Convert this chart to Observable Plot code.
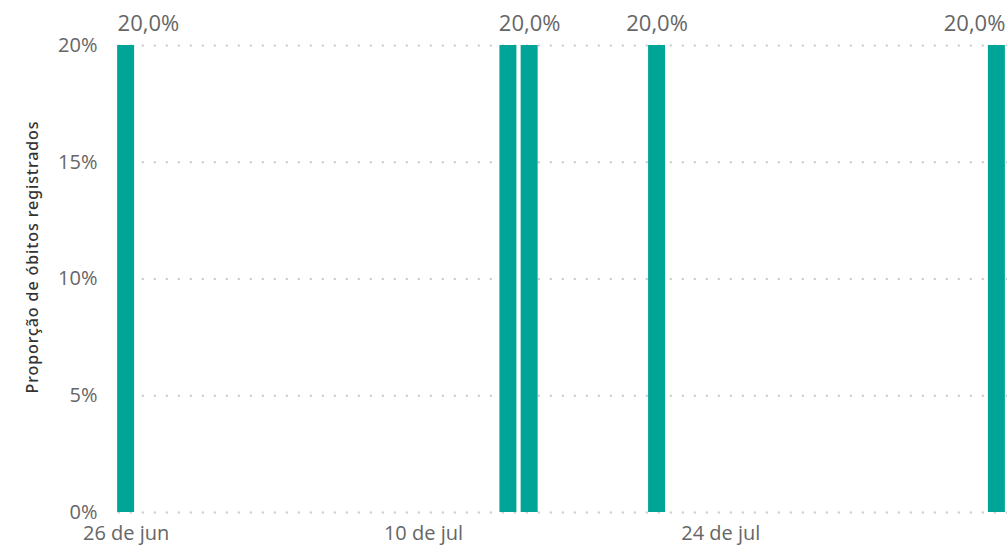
<!DOCTYPE html>
<html>
<head>
<meta charset="utf-8">
<script src="https://cdn.jsdelivr.net/npm/d3@7"></script>
<script src="https://cdn.jsdelivr.net/npm/@observablehq/plot@0.6"></script>
<style>
  html, body { margin: 0; padding: 0; background: #fff; }
  #chart svg { display: block; }
</style>
</head>
<body>
<div id="chart"></div>
<script>
// Data
const dates = ["2020-06-26", "2020-07-14", "2020-07-15", "2020-07-21", "2020-08-06"];
const values = [0.20, 0.20, 0.20, 0.20, 0.20];
// Which bars show a value label (the 14 jul label is hidden by overlap)
const showLabel = [true, false, true, true, true];
const yTicks = [0, 0.05, 0.10, 0.15, 0.20];
const xTicks = ["2020-06-26", "2020-07-10", "2020-07-24"];
const axisTitle = "Proporção de óbitos registrados";

const parse = d3.utcParse("%Y-%m-%d");
const data = dates.map((d, i) => ({date: parse(d), value: values[i], label: showLabel[i]}));
const half = 12 * 3600 * 1000;
const domainX = [new Date(parse("2020-06-26") - half), new Date(+parse("2020-08-06") + half)];

const months = ["jan","fev","mar","abr","mai","jun","jul","ago","set","out","nov","dez"];
const fmtDate = d => `${d.getUTCDate()} de ${months[d.getUTCMonth()]}`;
const fmtPct = v => `${Math.round(v * 100)}%`;
const fmtLabel = v => (v * 100).toFixed(1).replace(".", ",") + "%";

const font = "'Open Sans', 'Noto Sans', sans-serif";
const teal = "#01a597";
const labeled = data.filter(d => d.label);
const n = labeled.length;

const chart = Plot.plot({
  width: 1008,
  height: 546,
  marginLeft: 115,
  marginRight: 1,
  marginTop: 45,
  marginBottom: 34,
  style: {fontFamily: font, background: "#fff", overflow: "visible"},
  x: {type: "utc", domain: domainX, axis: null},
  y: {domain: [0, 0.2], axis: null},
  marks: [
    Plot.ruleY(yTicks, {
      stroke: "#c8c8c8", strokeWidth: 2, strokeDasharray: "2 10", strokeDashoffset: -2.8
    }),
    Plot.rectY(data, {
      x1: d => new Date(+d.date - half),
      x2: d => new Date(+d.date + half),
      y: "value",
      fill: teal,
      insetLeft: 2.12,
      insetRight: 2.12
    }),
    Plot.axisY(yTicks, {
      tickSize: 0, tickPadding: 18, tickFormat: fmtPct,
      fontSize: 20, fill: "#666", label: null
    }),
    Plot.axisX(xTicks.map(parse), {
      tickSize: 0, tickPadding: 13, tickFormat: fmtDate,
      fontSize: 20, fill: "#666", label: null
    }),
    // value labels: first one left-aligned to its bar, last right-aligned, others centered
    Plot.text(labeled.slice(0, 1), {
      x: "date", y: "value", text: d => fmtLabel(d.value),
      textAnchor: "start", dx: -8.5, dy: -15, lineAnchor: "bottom",
      fontSize: 22, fill: "#666"
    }),
    Plot.text(labeled.slice(1, n - 1), {
      x: "date", y: "value", text: d => fmtLabel(d.value),
      textAnchor: "middle", dy: -15, lineAnchor: "bottom",
      fontSize: 22, fill: "#666"
    }),
    Plot.text(labeled.slice(n - 1), {
      x: "date", y: "value", text: d => fmtLabel(d.value),
      textAnchor: "end", dx: 8.5, dy: -15, lineAnchor: "bottom",
      fontSize: 22, fill: "#666"
    }),
    Plot.text([axisTitle], {
      frameAnchor: "left", textAnchor: "middle", lineAnchor: "middle",
      dx: -83, dy: -22, rotate: -90, text: d => d,
      fontSize: 16, fontWeight: 500, fill: "#333",
      fontFamily: "'Noto Sans', sans-serif"
    })
  ]
});
d3.select(chart).selectAll("text")
  .filter(function() { return this.textContent === axisTitle; })
  .attr("letter-spacing", "0.9");
document.getElementById("chart").appendChild(chart);
</script>
</body>
</html>
